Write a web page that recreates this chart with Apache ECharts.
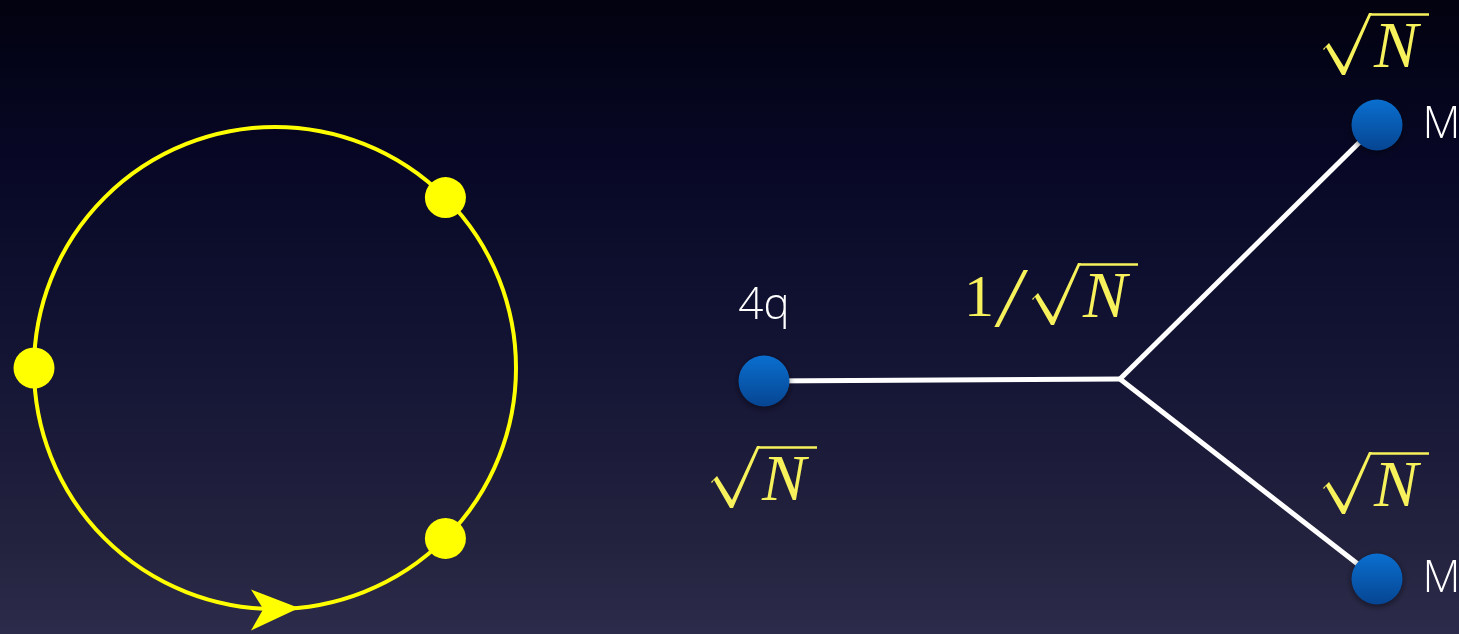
<!DOCTYPE html>
<html><head><meta charset="utf-8">
<script src="https://cdn.jsdelivr.net/npm/echarts@6/dist/echarts.min.js"></script>
<style>html,body{margin:0;padding:0;background:#03030f}#c{width:1459px;height:634px}</style>
</head><body><div id="c"></div>
<script>
// ---- data ----
// ring markers: angle in degrees on the loop (0 = right, counter-clockwise)
const ringDotAngles = [45, 180, 315];
const ringArrowAngle = 270;
// tree diagram nodes
const nodeNames = ['4q', '', 'M', 'M'];
const nodeX = [764, 1120, 1377, 1377];
const nodeY = [381, 379, 125, 579];
const nodeLabelPos = ['top', 'right', 'right', 'right'];
const linkSource = [0, 1, 1];
const linkTarget = [1, 2, 3];
// coupling labels sqrt(N): left edge of radical and height of its bar
const sqrtLeft = [711, 1323, 1323, 1032];
const sqrtTop = [446, 13, 452, 263];
// prefix glyphs of the middle coupling "1/"
const prefixText = ['1', '/'];
const prefixX = [979, 1010];
const prefixY = [300, 304];
const prefixSize = [60, 84];
const prefixItalic = [false, true];

const YEL = '#ffff00';
const MATH = '#f7f25c';
const RADICAL = 'path://M0,36 L6,30 L21,54 L46,0 L49,0 L22,62 L19,62 L3,34 L1,37 Z';

const chart = echarts.init(document.getElementById('c'));

const nodeData = nodeNames.map((n, i) => ({
  name: 'n' + i,
  value: [nodeX[i], nodeY[i]],
  symbolSize: n ? 51 : 0,
  label: { show: !!n, formatter: n, position: nodeLabelPos[i], distance: nodeLabelPos[i] === 'top' ? 27 : 20 }
}));
const linkData = linkSource.map((s, i) => ({ source: 'n' + s, target: 'n' + linkTarget[i] }));

const radicalData = sqrtLeft.map((x, i) => [x + 24.5, sqrtTop[i] + 31]);
const nData = sqrtLeft.map((x, i) => [x + 51, sqrtTop[i] + 37]);
const barData = sqrtLeft.map((x, i) => ({ coords: [[x + 47, sqrtTop[i] + 1.2], [x + 106, sqrtTop[i] + 1.2]] }));
const prefixData = prefixText.map((t, i) => ({
  value: [prefixX[i], prefixY[i]],
  label: { formatter: t, fontSize: prefixSize[i], fontStyle: prefixItalic[i] ? 'italic' : 'normal' }
}));

chart.setOption({
  backgroundColor: {
    type: 'linear', x: 0, y: 0, x2: 0, y2: 1,
    colorStops: [
      { offset: 0, color: '#020210' },
      { offset: 0.24, color: '#070725' },
      { offset: 0.55, color: '#131334' },
      { offset: 0.87, color: '#24233f' },
      { offset: 1, color: '#2c2b4b' }
    ]
  },
  animation: false,
  grid: { left: 0, right: 0, top: 0, bottom: 0 },
  xAxis: { type: 'value', min: 0, max: 1459, show: false },
  yAxis: { type: 'value', min: 0, max: 634, inverse: true, show: false },
  polar: { center: [275, 368], radius: 241 },
  angleAxis: {
    type: 'value', min: 0, max: 360, startAngle: 0, clockwise: false,
    axisLine: { show: true, lineStyle: { color: YEL, width: 4 } },
    axisTick: { show: false }, axisLabel: { show: false }, splitLine: { show: false }
  },
  radiusAxis: {
    type: 'value', min: 0, max: 1,
    axisLine: { show: false }, axisTick: { show: false }, axisLabel: { show: false }, splitLine: { show: false }
  },
  series: [
    {
      type: 'scatter', coordinateSystem: 'polar', symbol: 'circle', symbolSize: 41,
      itemStyle: { color: YEL, opacity: 1 }, z: 5, emphasis: { disabled: true },
      data: ringDotAngles.map(a => [1, a])
    },
    {
      type: 'scatter', coordinateSystem: 'polar',
      symbol: 'path://M0,0 L47,18 L0,40 L12,19 Z', symbolSize: [48, 41], symbolOffset: [0, 1],
      itemStyle: { color: YEL, opacity: 1 }, z: 5, emphasis: { disabled: true },
      data: [[1, ringArrowAngle]]
    },
    {
      type: 'graph', coordinateSystem: 'cartesian2d', z: 4,
      symbol: 'circle',
      itemStyle: {
        color: { type: 'linear', x: 0, y: 0, x2: 0, y2: 1, colorStops: [{ offset: 0, color: '#0a6fcf' }, { offset: 1, color: '#064592' }] },
        shadowColor: 'rgba(0,0,0,0.5)', shadowBlur: 6, shadowOffsetY: 2
      },
      label: { color: '#ffffff', fontSize: 44, fontFamily: 'Open Sans', fontWeight: 300 },
      lineStyle: { color: '#ffffff', width: 5, opacity: 1, curveness: 0 },
      emphasis: { disabled: true },
      data: nodeData,
      links: linkData
    },
    {
      type: 'scatter', symbol: RADICAL, symbolSize: [49, 62], z: 6,
      itemStyle: { color: MATH, opacity: 1 }, emphasis: { disabled: true },
      data: radicalData
    },
    {
      type: 'scatter', symbolSize: 0, z: 6, emphasis: { disabled: true },
      itemStyle: { opacity: 1 },
      label: {
        show: true, formatter: 'N', position: [0, 0], align: 'left', verticalAlign: 'middle',
        color: MATH, fontFamily: 'Liberation Serif', fontStyle: 'italic', fontSize: 66
      },
      data: nData
    },
    {
      type: 'scatter', symbolSize: 0, z: 6, emphasis: { disabled: true },
      itemStyle: { opacity: 1 },
      label: {
        show: true, position: [0, 0], align: 'center', verticalAlign: 'middle',
        color: MATH, fontFamily: 'Liberation Serif'
      },
      data: prefixData
    },
    {
      type: 'lines', coordinateSystem: 'cartesian2d', z: 6,
      lineStyle: { color: MATH, width: 2.5, opacity: 1 },
      data: barData
    }
  ]
});
</script></body></html>
